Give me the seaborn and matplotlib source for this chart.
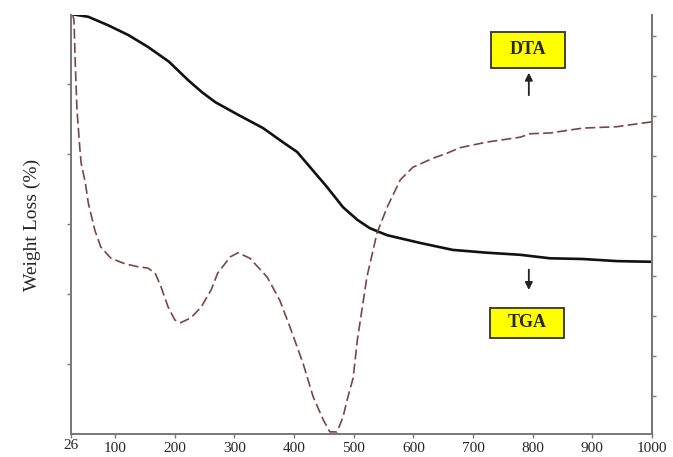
import matplotlib
matplotlib.use("Agg")
import matplotlib.pyplot as plt
import seaborn as sns
import pandas as pd
from matplotlib.patches import Rectangle

# ---- data (arbitrary units on the left axis) ----
tga_temp = [26, 33, 55, 88, 122, 155, 190, 223, 246, 268, 285, 304, 348,
            381, 405, 427, 455, 482, 506, 527, 556, 611, 666, 723, 779, 829,
            884, 941, 1000]
tga_val = [5.99, 5.99, 5.96, 5.84, 5.70, 5.53, 5.32, 5.05, 4.88, 4.74, 4.66,
           4.57, 4.37, 4.17, 4.03, 3.81, 3.53, 3.24, 3.06, 2.94, 2.84, 2.73,
           2.63, 2.59, 2.56, 2.51, 2.50, 2.47, 2.46]

dta_temp = [29, 31, 33, 36, 41, 43, 50, 55, 66, 76, 93, 117, 138, 155, 167,
            177, 189, 200, 210, 227, 244, 261, 272, 293, 306, 326, 355, 376,
            393, 415, 432, 449, 460, 472, 482, 489, 499, 506, 522, 539, 556,
            578, 599, 633, 656, 678, 723, 779, 796, 829, 884, 941, 1000]
dta_val = [5.99, 5.91, 5.34, 4.63, 4.06, 3.87, 3.59, 3.30, 2.91, 2.67, 2.51,
           2.43, 2.39, 2.37, 2.30, 2.10, 1.81, 1.63, 1.59, 1.66, 1.81, 2.06,
           2.30, 2.53, 2.59, 2.51, 2.24, 1.91, 1.53, 1.01, 0.53, 0.20, 0.03,
           0.03, 0.24, 0.49, 0.80, 1.34, 2.24, 2.87, 3.24, 3.63, 3.81, 3.94,
           4.01, 4.09, 4.17, 4.24, 4.29, 4.30, 4.37, 4.39, 4.46]

x_ticks = [26, 100, 200, 300, 400, 500, 600, 700, 800, 900, 1000]
x_tick_labels = ["26", "100", "200", "300", "400", "500", "600", "700",
                 "800", "900", "1000"]
left_ticks = [1, 2, 3, 4, 5]
right_ticks = [1, 2, 3, 4, 5, 6, 7, 8, 9, 10]
y_label = "Weight Loss (%)"
box_labels = ["DTA", "TGA"]

# ---- styling ----
sns.set_style("ticks")
plt.rcParams["font.family"] = ["Liberation Serif", "DejaVu Serif"]

fig = plt.figure(figsize=(6.73, 4.57), dpi=100)
ax = fig.add_axes([71 / 673, 1 - 434 / 457, 581 / 673, 419 / 457])

tga_df = pd.DataFrame({"T": tga_temp, "v": tga_val})
dta_df = pd.DataFrame({"T": dta_temp, "v": dta_val})

sns.lineplot(data=tga_df, x="T", y="v", ax=ax, color="#111111", lw=1.9,
             sort=False, estimator=None)
sns.lineplot(data=dta_df, x="T", y="v", ax=ax, color="#7a4545", lw=1.2,
             sort=False, estimator=None)
ax.lines[-1].set_dashes([6, 2.5])
for ln in ax.lines:
    ln.set_solid_joinstyle("round")
    ln.set_dash_joinstyle("round")

ax.set_xlim(26, 1000)
ax.set_ylim(0, 419 / 70)
ax.set_xticks(x_ticks)
ax.set_xticklabels(x_tick_labels, fontsize=11)
ax.set_yticks(left_ticks)
ax.set_yticklabels([])
ax.set_xlabel("")
ax.set_ylabel(y_label, fontsize=14, labelpad=15)

spine_col = "#777777"
for s in ["left", "bottom", "right"]:
    ax.spines[s].set_color(spine_col)
    ax.spines[s].set_linewidth(1.4)
ax.spines["top"].set_visible(False)
ax.tick_params(axis="both", color=spine_col, length=3, width=1)
ax.tick_params(axis="x", pad=3)
ax.xaxis.get_major_ticks()[0].set_pad(0.5)

ax2 = ax.twinx()
ax2.set_ylim(0.05, 10.525)
ax2.set_yticks(right_ticks)
ax2.set_yticklabels([])
ax2.tick_params(axis="y", color=spine_col, length=3, width=1)
for s in ["left", "bottom", "top"]:
    ax2.spines[s].set_visible(False)
ax2.spines["right"].set_color(spine_col)
ax2.spines["right"].set_linewidth(1.4)

# ---- annotation boxes and arrows ----
boxes = [(0.723, 0.8735, 0.127, 0.086), (0.721, 0.229, 0.128, 0.072)]
for (bx, by, bw, bh), lab in zip(boxes, box_labels):
    ax.add_patch(Rectangle((bx, by), bw, bh, transform=ax.transAxes,
                           facecolor="#ffff00", edgecolor="#333333",
                           lw=1.3, zorder=5, clip_on=False))
    ax.text(bx + bw / 2, by + bh / 2, lab, transform=ax.transAxes,
            ha="center", va="center", fontsize=13, fontweight="bold",
            zorder=6)

ax.annotate("", xy=(0.788, 0.869), xytext=(0.788, 0.802),
            xycoords="axes fraction",
            arrowprops=dict(arrowstyle="-|>", color="#222222", lw=1.3,
                            mutation_scale=11))
ax.annotate("", xy=(0.788, 0.337), xytext=(0.788, 0.399),
            xycoords="axes fraction",
            arrowprops=dict(arrowstyle="-|>", color="#222222", lw=1.3,
                            mutation_scale=11))

fig.savefig("out.png", dpi=100)
